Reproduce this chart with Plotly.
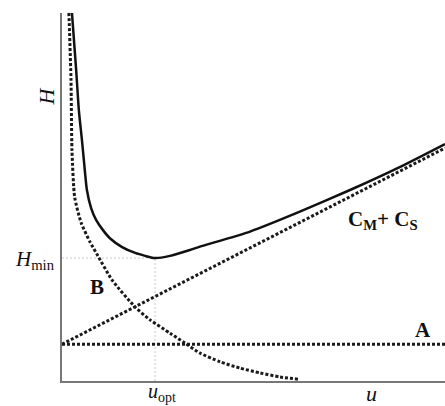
import plotly.graph_objects as go

# Data (u in arbitrary units 0-10, H in 0-10)
b_u = [0.18, 0.235, 0.26, 0.33, 0.50, 0.73, 0.91, 1.31, 1.91, 2.30, 2.82, 3.21, 3.60, 4.13, 4.65, 5.17, 5.69, 6.16]
b_h = [10.0, 8.18, 6.28, 5.00, 4.30, 3.78, 3.45, 2.74, 2.01, 1.66, 1.30, 1.03, 0.76, 0.52, 0.35, 0.22, 0.11, 0.05]

total_u = [0.26, 0.37, 0.44, 0.52, 0.57, 0.65, 0.76, 0.89, 1.07, 1.25, 1.57, 1.91, 2.17, 2.43,
           2.82, 3.34, 3.60, 4.91, 6.21, 7.52, 8.83, 10.0]
total_h = [10.0, 8.45, 7.36, 6.55, 6.01, 5.19, 4.70, 4.38, 4.10, 3.88, 3.64, 3.48, 3.40, 3.34,
           3.40, 3.56, 3.65, 4.06, 4.60, 5.19, 5.82, 6.44]

c_u = [0.0, 10.0]
c_h = [1.0, 6.33]

a_u = [0.0, 10.0]
a_h = [1.0, 1.0]

u_opt = 2.43
h_min = 3.34

fig = go.Figure()
dotstyle = dict(color="#1a1a1a", width=3, dash="3px,2px")

# guide lines
fig.add_trace(go.Scatter(x=[0, u_opt], y=[h_min, h_min], mode="lines",
                         line=dict(color="#c8c8c8", width=1, dash="2px,2px"), hoverinfo="skip"))
fig.add_trace(go.Scatter(x=[u_opt, u_opt], y=[0, h_min], mode="lines",
                         line=dict(color="#c8c8c8", width=1, dash="2px,2px"), hoverinfo="skip"))

fig.add_trace(go.Scatter(x=a_u, y=a_h, mode="lines", line=dotstyle))
fig.add_trace(go.Scatter(x=c_u, y=c_h, mode="lines", line=dotstyle))
fig.add_trace(go.Scatter(x=b_u, y=b_h, mode="lines", line=dict(dotstyle, shape="spline", smoothing=0.6)))
fig.add_trace(go.Scatter(x=total_u, y=total_h, mode="lines",
                         line=dict(color="#111111", width=2.5, shape="spline", smoothing=0.6)))

serif = "Liberation Serif, Times New Roman, serif"
ann = [
    dict(x=-0.040, y=0.772, text="<i>H</i>", textangle=-90, font=dict(size=22)),
    dict(x=-0.016, y=0.328, text="<i>H</i><sub>min</sub>", xanchor="right", font=dict(size=21)),
    dict(x=0.262, y=-0.068, text="<i>u</i><sub>opt</sub>", yanchor="bottom", font=dict(size=20)),
    dict(x=0.809, y=-0.033, text="<i>u</i>", font=dict(size=22)),
    dict(x=0.091, y=0.255, text="<b>B</b>", font=dict(size=21)),
    dict(x=0.943, y=0.139, text="<b>A</b>", font=dict(size=21)),
    dict(x=0.838, y=0.437, text="<b>C<sub>M</sub>+ C<sub>S</sub></b>", font=dict(size=21)),
]
for a in ann:
    a["showarrow"] = False
    a["borderpad"] = 0
    a.setdefault("xanchor", "center")
    a.setdefault("yanchor", "middle")
    a["font"] = dict(family=serif, color="#111111", **a["font"])
    a["xref"] = "paper"
    a["yref"] = "paper"

fig.update_layout(
    width=445, height=406,
    margin=dict(l=62, r=0, t=13, b=25),
    paper_bgcolor="white", plot_bgcolor="white",
    showlegend=False,
    annotations=ann,
    xaxis=dict(range=[0, 10], showgrid=False, zeroline=False, showticklabels=False,
               ticks="", showline=True, linecolor="#777777", linewidth=2),
    yaxis=dict(range=[0, 10], showgrid=False, zeroline=False, showticklabels=False,
               ticks="", showline=True, linecolor="#777777", linewidth=2),
)

fig.write_html("out.html")
